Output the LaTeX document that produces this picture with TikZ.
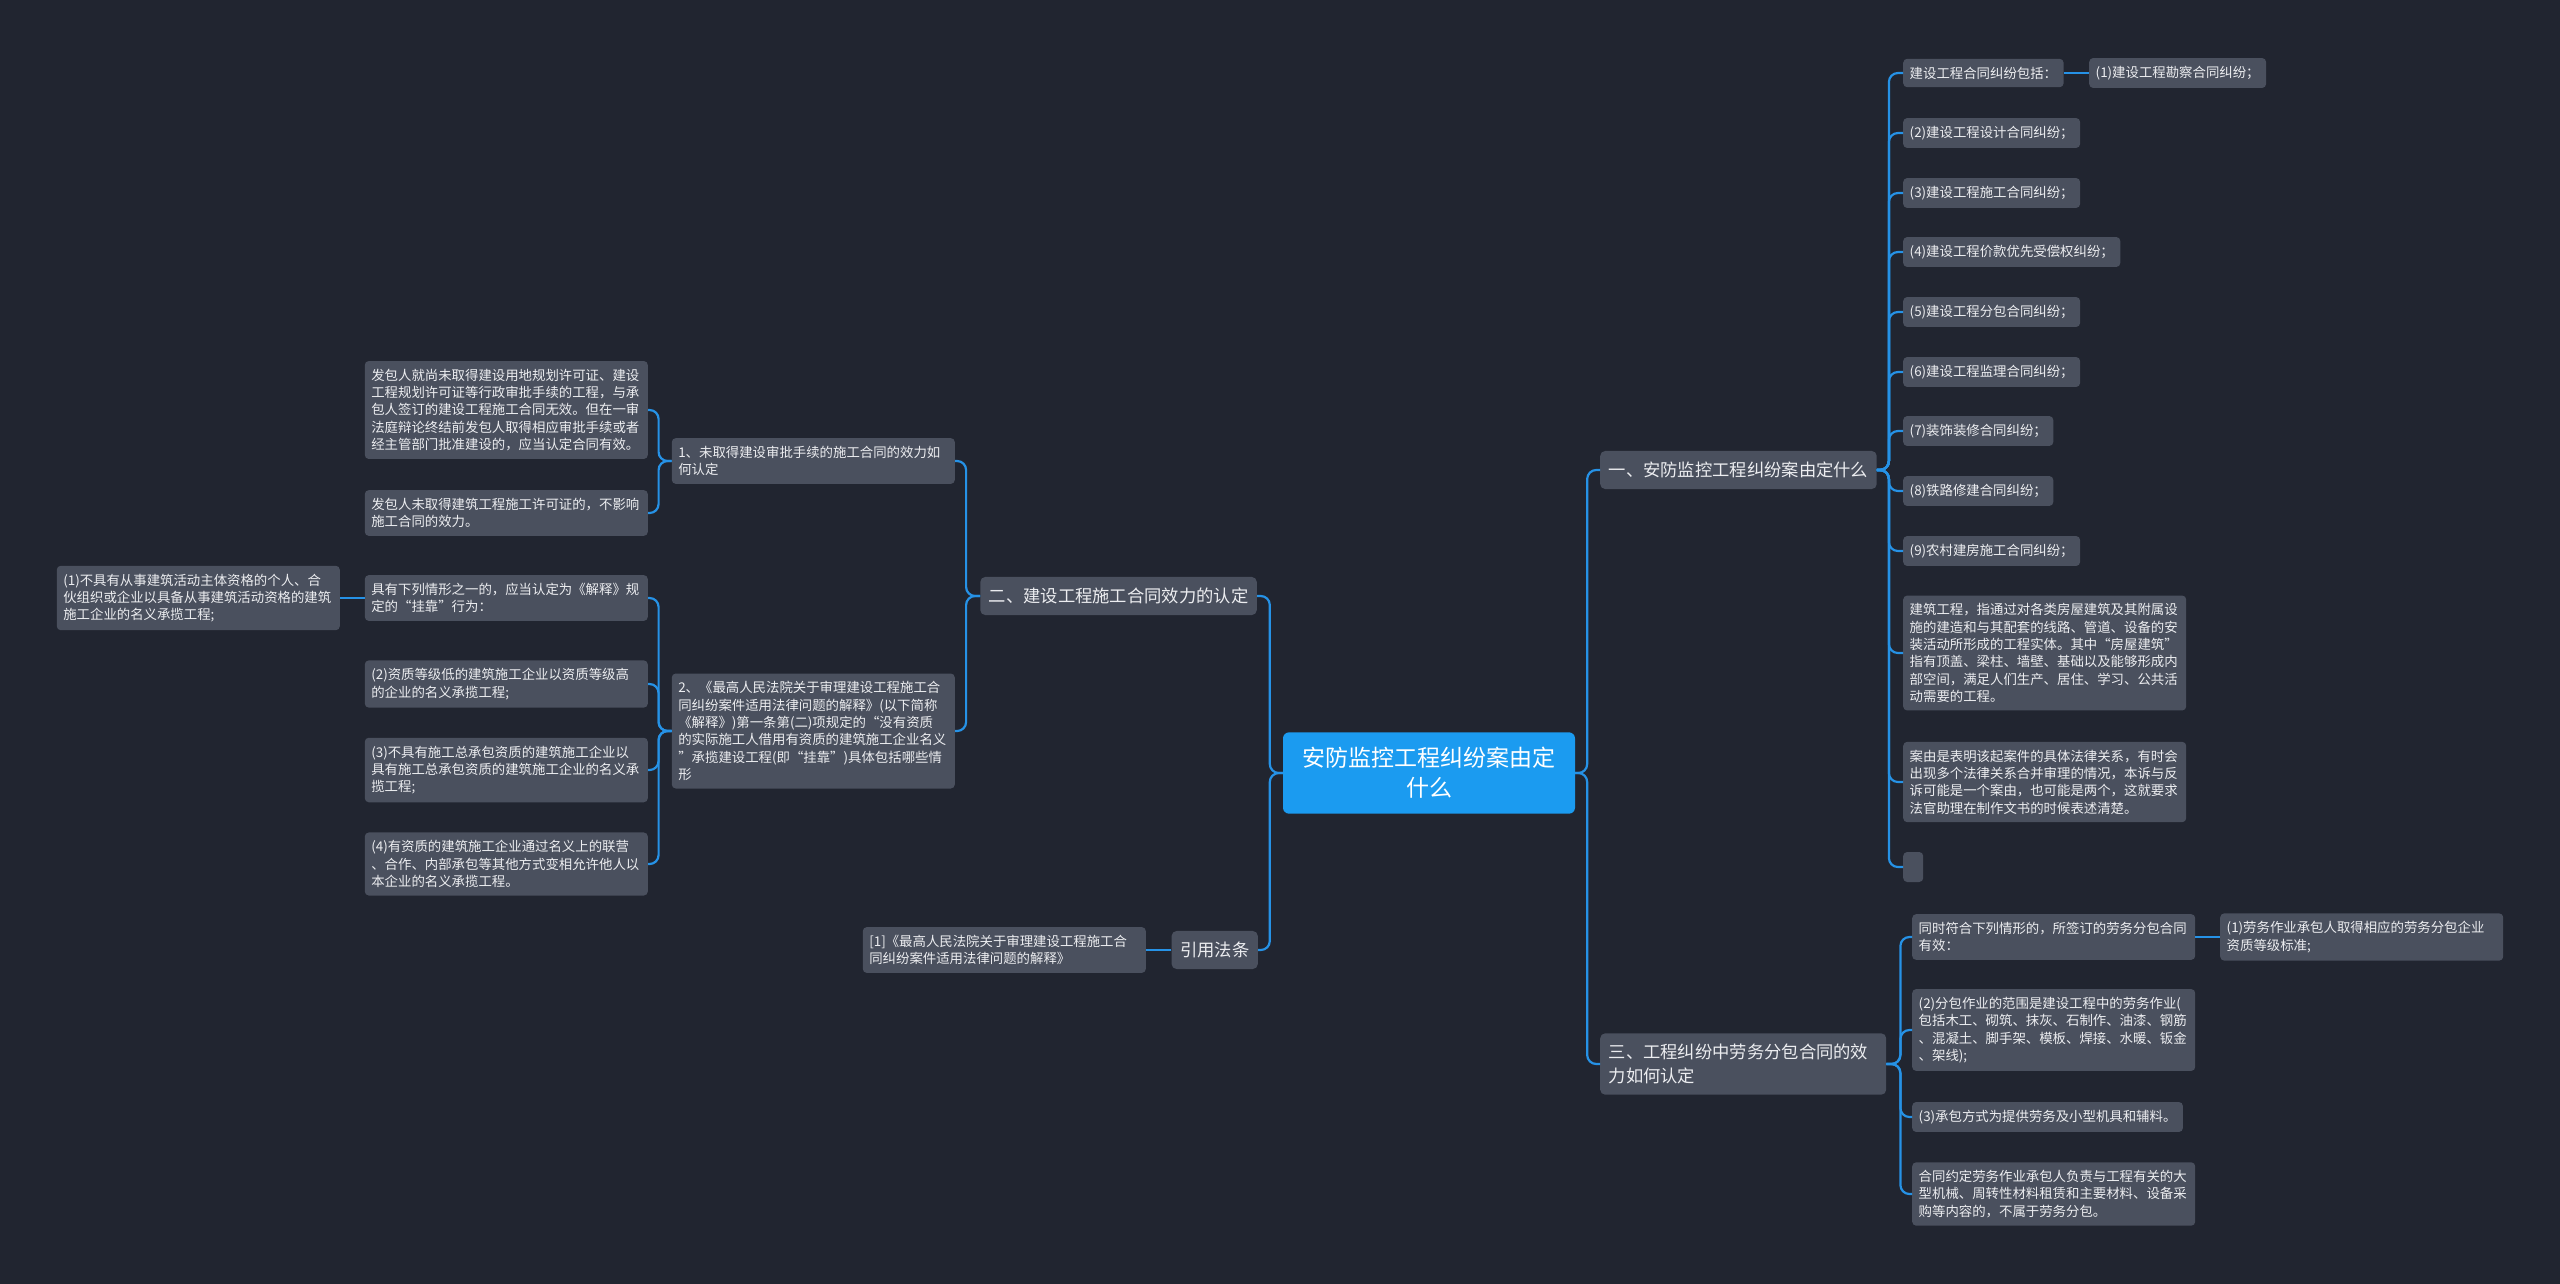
\documentclass[tikz,border=0pt]{standalone}
\usepackage{fontspec}
\setmainfont{Noto Sans CJK SC}
\definecolor{bgcol}{RGB}{33,37,48}
\definecolor{boxcol}{RGB}{74,80,94}
\definecolor{linkcol}{RGB}{38,146,230}
\definecolor{rootcol}{RGB}{27,155,240}
\definecolor{txtcol}{RGB}{236,237,240}
\begin{document}
\begin{tikzpicture}[x=1pt,y=-1pt,
  leaf/.style={fill=boxcol,text=txtcol,rounded corners=4pt,inner xsep=6.5pt,inner ysep=8pt,align=left,font=\fontsize{13.4}{17.3}\selectfont},
  para/.style={leaf,text width=270pt},
  topic/.style={fill=boxcol,text=txtcol,rounded corners=5pt,inner xsep=8.5pt,inner ysep=11pt,align=left,font=\fontsize{17.3}{23.3}\selectfont},
  root/.style={fill=rootcol,text=white,rounded corners=6pt,inner xsep=19.5pt,inner ysep=15pt,align=center,font=\fontsize{23}{30}\selectfont},
  link/.style={draw=linkcol,line width=2.2pt,rounded corners=9pt}]
  \useasboundingbox (0,0) rectangle (2560,1283);
  \fill[bgcol] (-6,-6) rectangle (2566,1289);
  \node[root] (root) at (1429,773) {安防监控工程纠纷案由定\\什么};
  \node[topic,anchor=west] (t1) at (1600,470) {一、安防监控工程纠纷案由定什么};
  \node[topic,anchor=west,text width=269pt] (t3) at (1600,1064) {三、工程纠纷中劳务分包合同的效\\力如何认定};
  \node[topic,anchor=east] (t2) at (1257,596) {二、建设工程施工合同效力的认定};
  \node[topic,anchor=east] (t4) at (1258,950) {引用法条};
  % 一
  \node[leaf,anchor=west] (a0) at (1903,73) {建设工程合同纠纷包括：};
  \node[leaf,anchor=west] (a1) at (2089,73) {(1)建设工程勘察合同纠纷；};
  \node[leaf,anchor=west] (a2) at (1903,133) {(2)建设工程设计合同纠纷；};
  \node[leaf,anchor=west] (a3) at (1903,193) {(3)建设工程施工合同纠纷；};
  \node[leaf,anchor=west] (a4) at (1903,252) {(4)建设工程价款优先受偿权纠纷；};
  \node[leaf,anchor=west] (a5) at (1903,312) {(5)建设工程分包合同纠纷；};
  \node[leaf,anchor=west] (a6) at (1903,372) {(6)建设工程监理合同纠纷；};
  \node[leaf,anchor=west] (a7) at (1903,431) {(7)装饰装修合同纠纷；};
  \node[leaf,anchor=west] (a8) at (1903,491) {(8)铁路修建合同纠纷；};
  \node[leaf,anchor=west] (a9) at (1903,551) {(9)农村建房施工合同纠纷；};
  \node[para,anchor=west] (a10) at (1903,653) {建筑工程，指通过对各类房屋建筑及其附属设\\施的建造和与其配套的线路、管道、设备的安\\装活动所形成的工程实体。其中“房屋建筑”\\指有顶盖、梁柱、墙壁、基础以及能够形成内\\部空间，满足人们生产、居住、学习、公共活\\动需要的工程。};
  \node[para,anchor=west] (a11) at (1903,782) {案由是表明该起案件的具体法律关系，有时会\\出现多个法律关系合并审理的情况，本诉与反\\诉可能是一个案由，也可能是两个，这就要求\\法官助理在制作文书的时候表述清楚。};
  \node[leaf,anchor=west,minimum width=20pt,minimum height=30pt,inner sep=0pt] (a12) at (1903,867) {};
  % 三
  \node[para,anchor=west] (c1) at (1912,937) {同时符合下列情形的，所签订的劳务分包合同\\有效：};
  \node[para,anchor=west] (c1x) at (2220,937) {(1)劳务作业承包人取得相应的劳务分包企业\\资质等级标准;};
  \node[para,anchor=west] (c2) at (1912,1030) {(2)分包作业的范围是建设工程中的劳务作业(\\包括木工、砌筑、抹灰、石制作、油漆、钢筋\\、混凝土、脚手架、模板、焊接、水暖、钣金\\、架线);};
  \node[leaf,anchor=west] (c3) at (1912,1117) {(3)承包方式为提供劳务及小型机具和辅料。};
  \node[para,anchor=west] (c4) at (1912,1194) {合同约定劳务作业承包人负责与工程有关的大\\型机械、周转性材料租赁和主要材料、设备采\\购等内容的，不属于劳务分包。};
  % 二
  \node[para,anchor=east] (b1) at (955,461) {1、未取得建设审批手续的施工合同的效力如\\何认定};
  \node[para,anchor=east] (b1a) at (648,410) {发包人就尚未取得建设用地规划许可证、建设\\工程规划许可证等行政审批手续的工程，与承\\包人签订的建设工程施工合同无效。但在一审\\法庭辩论终结前发包人取得相应审批手续或者\\经主管部门批准建设的，应当认定合同有效。};
  \node[para,anchor=east] (b1b) at (648,513) {发包人未取得建筑工程施工许可证的，不影响\\施工合同的效力。};
  \node[para,anchor=east] (b2) at (955,731) {2、《最高人民法院关于审理建设工程施工合\\同纠纷案件适用法律问题的解释》(以下简称\\《解释》)第一条第(二)项规定的“没有资质\\的实际施工人借用有资质的建筑施工企业名义\\”承揽建设工程(即“挂靠”)具体包括哪些情\\形};
  \node[para,anchor=east] (b2a) at (648,598) {具有下列情形之一的，应当认定为《解释》规\\定的“挂靠”行为：};
  \node[para,anchor=east] (b2ax) at (340,598) {(1)不具有从事建筑活动主体资格的个人、合\\伙组织或企业以具备从事建筑活动资格的建筑\\施工企业的名义承揽工程;};
  \node[para,anchor=east] (b2b) at (648,684) {(2)资质等级低的建筑施工企业以资质等级高\\的企业的名义承揽工程;};
  \node[para,anchor=east] (b2c) at (648,770) {(3)不具有施工总承包资质的建筑施工企业以\\具有施工总承包资质的建筑施工企业的名义承\\揽工程;};
  \node[para,anchor=east] (b2d) at (648,864) {(4)有资质的建筑施工企业通过名义上的联营\\、合作、内部承包等其他方式变相允许他人以\\本企业的名义承揽工程。};
  \node[para,anchor=east] (r1) at (1146,950) {[1]《最高人民法院关于审理建设工程施工合\\同纠纷案件适用法律问题的解释》};
  % links
  \foreach \k in {t1,t3} \draw[link] (root.east) -- ++(12,0) |- (\k.west);
  \foreach \k in {t2,t4} \draw[link] (root.west) -- ++(-13,0) |- (\k.east);
  \foreach \k in {a0,a2,a3,a4,a5,a6,a7,a8,a9,a10,a11,a12} \draw[link] (t1.east) -- ++(12,0) |- (\k.west);
  \foreach \k in {c1,c2,c3,c4} \draw[link] (t3.east) -- ++(14,0) |- (\k.west);
  \foreach \k in {b1,b2} \draw[link] (t2.west) -- ++(-14,0) |- (\k.east);
  \foreach \k in {b1a,b1b} \draw[link] (b1.west) -- ++(-13,0) |- (\k.east);
  \foreach \k in {b2a,b2b,b2c,b2d} \draw[link] (b2.west) -- ++(-13,0) |- (\k.east);
  \draw[link] (a0.east) -- (a1.west);
  \draw[link] (c1.east) -- (c1x.west);
  \draw[link] (b2a.west) -- (b2ax.east);
  \draw[link] (t4.west) -- (r1.east);
\end{tikzpicture}
\end{document}
